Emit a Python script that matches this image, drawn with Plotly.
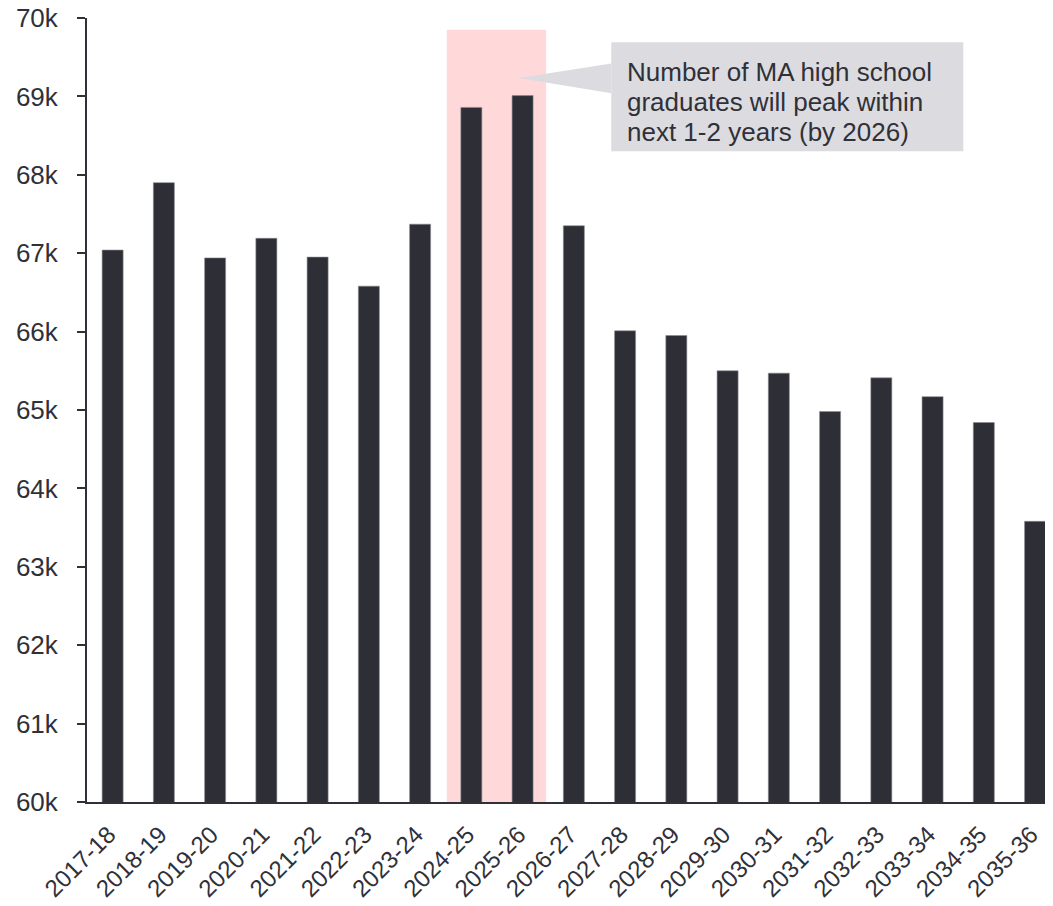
import plotly.graph_objects as go

years = ["2017-18", "2018-19", "2019-20", "2020-21", "2021-22", "2022-23", "2023-24",
         "2024-25", "2025-26", "2026-27", "2027-28", "2028-29", "2029-30", "2030-31",
         "2031-32", "2032-33", "2033-34", "2034-35", "2035-36"]
graduates = [67040, 67900, 66940, 67190, 66950, 66580, 67370,
             68860, 69010, 67350, 66010, 65950, 65500, 65470,
             64980, 65410, 65170, 64840, 63580]

callout_lines = ["Number of MA high school",
                 "graduates will peak within",
                 "next 1-2 years (by 2026)"]

bar_color = "#2e2e36"
text_color = "#303038"
font = "Liberation Sans, Arial, sans-serif"

fig = go.Figure()

fig.add_trace(go.Bar(
    x=years,
    y=graduates,
    width=0.41,
    marker=dict(color=bar_color, line=dict(color="#8a8a90", width=0.6)),
    hoverinfo="x+y",
))

# highlighted peak years
fig.add_shape(type="rect", xref="x", yref="y",
              x0=6.52, x1=8.46, y0=60000, y1=69850,
              fillcolor="#ffd9d9", line_width=0, layer="below")

# callout box with pointer
fig.add_shape(type="path", xref="x", yref="y",
              path="M 9.73,69420 L 7.92,69235 L 9.73,69040 Z",
              fillcolor="#dcdce0", line_width=0, layer="above")
fig.add_shape(type="rect", xref="x", yref="y",
              x0=9.73, x1=16.6, y0=68300, y1=69690,
              fillcolor="#dcdce0", line_width=0, layer="above")

line_y = [69310, 68930, 68550]
for txt, yy in zip(callout_lines, line_y):
    fig.add_annotation(x=10.0, y=yy, xref="x", yref="y", text=txt,
                       showarrow=False, xanchor="left", yanchor="middle",
                       font=dict(family=font, size=26, color=text_color))

fig.update_layout(
    width=1045, height=898,
    margin=dict(l=79, r=0, t=10, b=104),
    plot_bgcolor="white", paper_bgcolor="white",
    font=dict(family=font, size=24, color=text_color),
    showlegend=False,
    bargap=0.59,
)

fig.update_xaxes(
    type="category",
    range=[-0.5, 18.35],
    tickangle=-45,
    showline=True, linecolor=text_color, linewidth=2,
    ticks="", showgrid=False,
    ticklabelstandoff=7,
    ticklabelshift=-4,
    tickfont=dict(size=24),
    automargin=False,
)

fig.update_yaxes(
    range=[60000, 70000],
    dtick=1000,
    tickformat="~s",
    showline=True, linecolor=text_color, linewidth=2,
    ticks="outside", ticklen=8, tickwidth=2, tickcolor=text_color,
    ticklabelstandoff=14,
    ticklabeloverflow="allow",
    showgrid=False, zeroline=False,
    tickfont=dict(size=26),
    automargin=False,
)

fig.write_html("out.html")
